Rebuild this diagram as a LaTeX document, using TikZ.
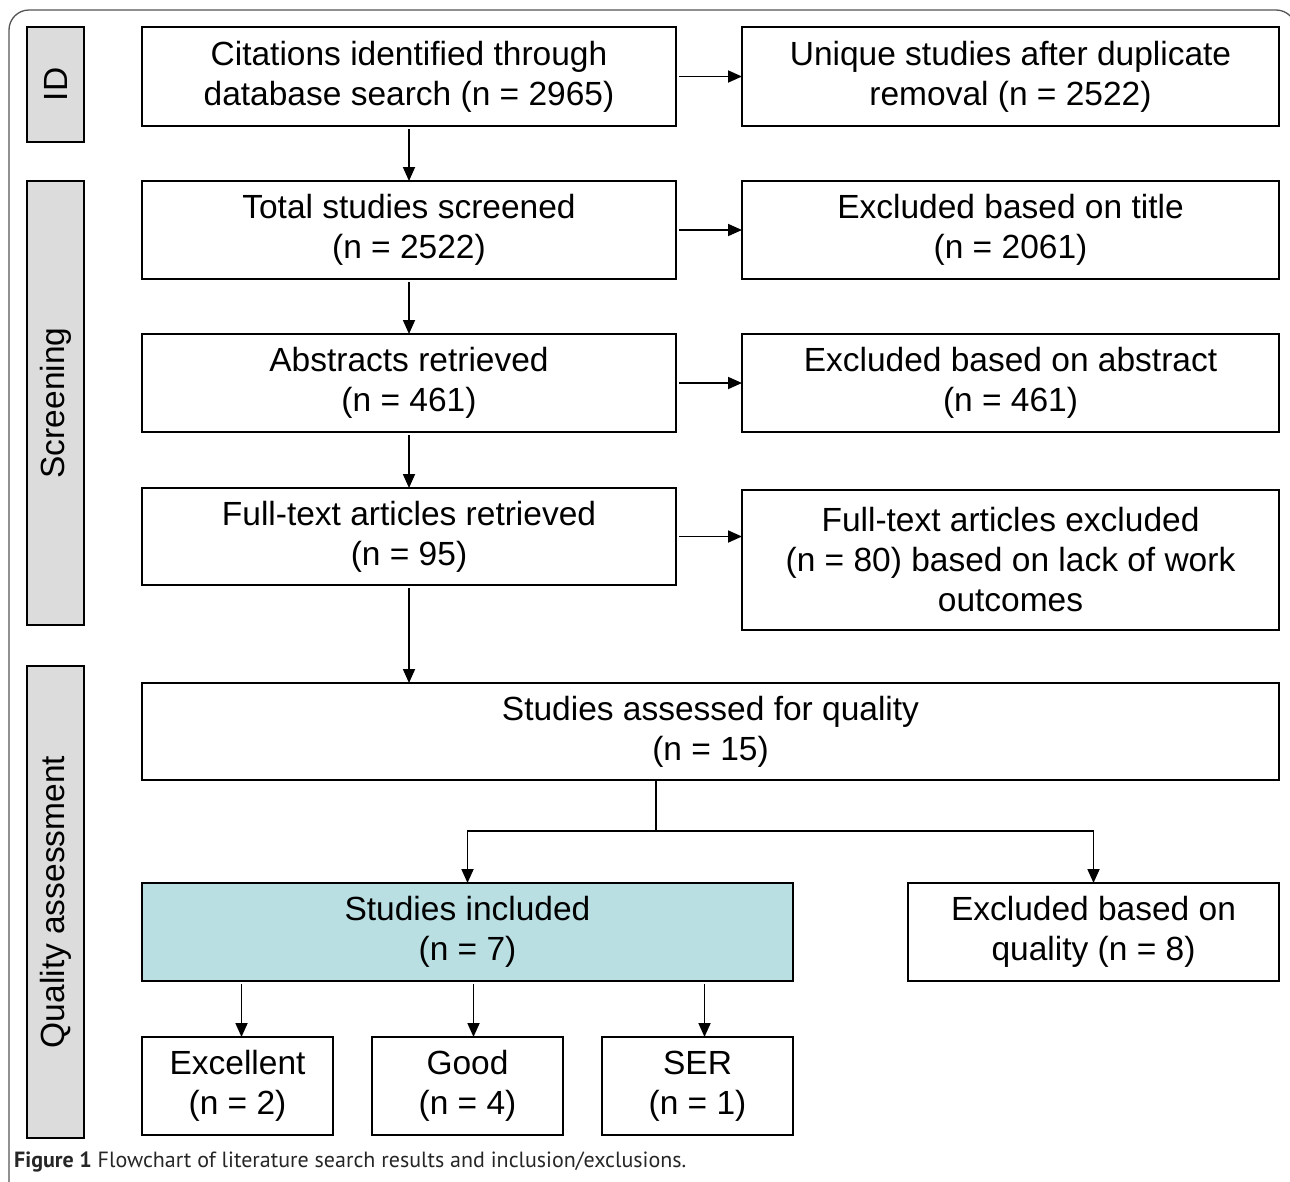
\documentclass[tikz,border=0pt]{standalone}
\usepackage{fontspec}
\setmainfont{Liberation Sans}
\newfontfamily\capfont{PT Sans}
\usetikzlibrary{arrows.meta}
\definecolor{sidegray}{HTML}{DCDCDC}
\definecolor{incl}{HTML}{B9DFE2}
\definecolor{framegray}{HTML}{555555}
\begin{document}
\begin{tikzpicture}[x=1pt,y=-1pt,
 box/.style={draw,line width=2pt,inner sep=0pt,outer sep=0pt,align=center,font=\fontsize{33.5}{40}\selectfont},
 sidebox/.style={box,fill=sidegray,rotate=90,minimum height=57pt},
 arr/.style={line width=1.8pt,-{Triangle[length=14pt,width=12pt]},shorten <=3pt},
 plain/.style={line width=1.8pt}]
\useasboundingbox (0,0) rectangle (1290,1181);
\begin{scope}
\clip (0,0) rectangle (1290,1181);
\draw[line width=1.3pt,framegray,rounded corners=20pt] (9,1190) -- (9,10) -- (1296,10) -- (1296,1190);
\end{scope}
% side labels
\node[sidebox,minimum width=115pt] (sid) at (55.5,84.5) {ID};
\node[sidebox,minimum width=444pt] (sscr) at (55.5,403) {Screening};
\node[sidebox,minimum width=472pt] (sqa) at (55.5,902) {Quality assessment};
% boxes
\node[box,minimum width=534pt,minimum height=99pt] (A) at (409,76.5) {Citations identified through\\database search (n = 2965)};
\node[box,minimum width=537pt,minimum height=99pt] (B) at (1010.5,76.5) {Unique studies after duplicate\\removal (n = 2522)};
\node[box,minimum width=534pt,minimum height=98pt] (C) at (409,230) {Total studies screened\\(n = 2522)};
\node[box,minimum width=537pt,minimum height=98pt] (D) at (1010.5,230) {Excluded based on title\\(n = 2061)};
\node[box,minimum width=534pt,minimum height=98pt] (E) at (409,383) {Abstracts retrieved\\(n = 461)};
\node[box,minimum width=537pt,minimum height=98pt] (F) at (1010.5,383) {Excluded based on abstract\\(n = 461)};
\node[box,minimum width=534pt,minimum height=97pt] (G) at (409,536.5) {Full-text articles retrieved\\(n = 95)};
\node[box,minimum width=537pt,minimum height=140pt] (H) at (1010.5,560) {Full-text articles excluded\\(n = 80) based on lack of work\\outcomes};
\node[box,minimum width=1137pt,minimum height=97pt] (I) at (710.5,731.5) {Studies assessed for quality\\(n = 15)};
\node[box,fill=incl,minimum width=651pt,minimum height=98pt] (J) at (467.5,932) {Studies included\\(n = 7)};
\node[box,minimum width=371pt,minimum height=98pt] (K) at (1093.5,932) {Excluded based on\\quality (n = 8)};
\node[box,minimum width=191pt,minimum height=98pt] (ex) at (237.5,1086) {Excellent\\(n = 2)};
\node[box,minimum width=191pt,minimum height=98pt] (gd) at (467.5,1086) {Good\\(n = 4)};
\node[box,minimum width=191pt,minimum height=98pt] (ser) at (697.5,1086) {SER\\(n = 1)};
% connectors
\draw[arr] (A) -- (B);
\draw[arr] (C) -- (D);
\draw[arr] (E) -- (F);
\draw[arr] (G.east) -- (G.east -| H.west);
\draw[arr] (A) -- (C);
\draw[arr] (C) -- (E);
\draw[arr] (E) -- (G);
\draw[arr] (G.south) -- (G.south |- I.north);
\coordinate (split) at (656,831);
\draw[plain] (I.south -| split) -- (split);
\draw[arr,shorten <=0pt] (split) -| (J.north);
\draw[arr,shorten <=0pt] (split) -| (K.north);
\draw[arr] ([xshift=4pt]ex.north |- J.south) -- ([xshift=4pt]ex.north);
\draw[arr] ([xshift=6pt]gd.north |- J.south) -- ([xshift=6pt]gd.north);
\draw[arr] ([xshift=7pt]ser.north |- J.south) -- ([xshift=7pt]ser.north);
% caption
\node[anchor=base west,inner sep=0pt,font=\capfont\fontsize{22}{24}\selectfont,text=black!85] (cap) at (14,1167) {\textbf{Figure 1} Flowchart of literature search results and inclusion/exclusions.};
\end{tikzpicture}
\end{document}
